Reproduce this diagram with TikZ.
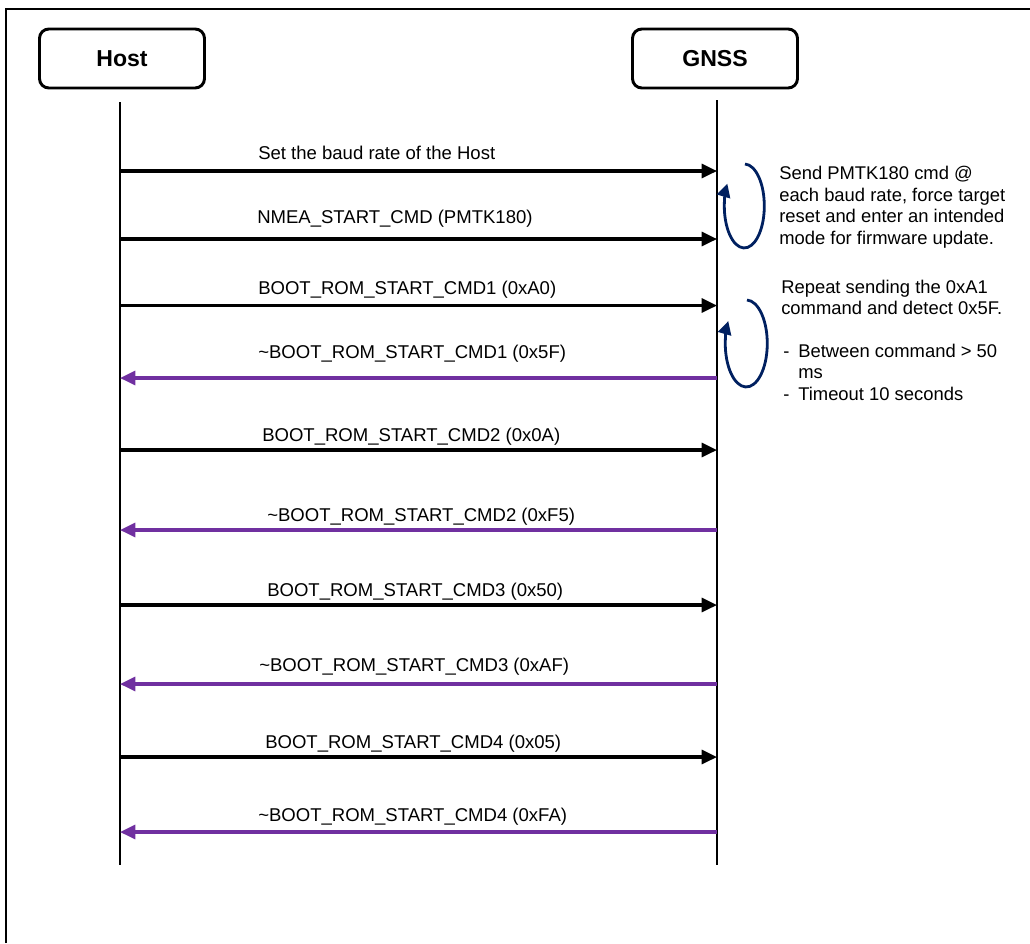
\documentclass[tikz,border=0pt]{standalone}
\usepackage{fontspec}
\setmainfont{Liberation Sans}
\usepackage{tikz}
\usetikzlibrary{arrows.meta}
\definecolor{ackpurple}{HTML}{7030A0}
\definecolor{loopnavy}{HTML}{002060}

\begin{document}
\begin{tikzpicture}[x=0.75pt, y=-0.75pt,
  hdr/.style={draw, rounded corners=7pt, line width=2.2pt, minimum width=123.75pt, minimum height=44.25pt, font=\fontsize{17.3}{20}\selectfont\bfseries},
  life/.style={line width=2.2pt},
  req/.style={-{Triangle[length=11.5pt, width=10.5pt]}, line width=2.3pt},
  ack/.style={req, draw=ackpurple},
  lbl/.style={anchor=west, inner sep=0pt, text height=9.9pt, text depth=0pt, font=\fontsize{13.9}{16}\selectfont},
  rep/.style={-{Triangle[length=10pt, width=10pt]}, draw=loopnavy, line width=2.1pt},
  note/.style={anchor=north west, align=left, inner sep=0pt, font=\fontsize{13.8}{16.1}\selectfont}]
  \useasboundingbox (0,0) rectangle (1030,943);
  \draw[line width=1.6pt] (6,943) -- (6,9) -- (1030,9);
  \node[hdr] (host) at (122,58.5) {Host};
  \node[hdr] (gnss) at (715,58.5) {GNSS};
  \coordinate (hTop) at (120,102); \coordinate (hEnd) at (120,865);
  \coordinate (gTop) at (717,100); \coordinate (gEnd) at (717,865);
  \draw[life] (hTop) -- (hEnd);
  \draw[life] (gTop) -- (gEnd);
  \coordinate (h1) at (120,171); \coordinate (g1) at (717,171);
  \coordinate (h2) at (120,239); \coordinate (g2) at (717,239);
  \coordinate (h3) at (120,305.5); \coordinate (g3) at (717,305.5);
  \coordinate (h4) at (120,378); \coordinate (g4) at (717,378);
  \coordinate (h5) at (120,450); \coordinate (g5) at (717,450);
  \coordinate (h6) at (120,530); \coordinate (g6) at (717,530);
  \coordinate (h7) at (120,605); \coordinate (g7) at (717,605);
  \coordinate (h8) at (120,684); \coordinate (g8) at (717,684);
  \coordinate (h9) at (120,757); \coordinate (g9) at (717,757);
  \coordinate (h10) at (120,832); \coordinate (g10) at (717,832);
  \draw[req] (h1) -- (g1);
  \draw[req] (h2) -- (g2);
  \draw[req] (h3) -- (g3);
  \draw[ack] (g4) -- (h4);
  \draw[req] (h5) -- (g5);
  \draw[ack] (g6) -- (h6);
  \draw[req] (h7) -- (g7);
  \draw[ack] (g8) -- (h8);
  \draw[req] (h9) -- (g9);
  \draw[ack] (g10) -- (h10);
  \node[lbl] (m1) at (258,152.5) {Set the baud rate of the Host};
  \node[lbl] (m2) at (257,217) {NMEA\_START\_CMD (PMTK180)};
  \node[lbl] (m3) at (258,288) {BOOT\_ROM\_START\_CMD1 (0xA0)};
  \node[lbl] (m4) at (258,352) {\textasciitilde BOOT\_ROM\_START\_CMD1 (0x5F)};
  \node[lbl] (m5) at (262,435) {BOOT\_ROM\_START\_CMD2 (0x0A)};
  \node[lbl] (m6) at (267,515) {\textasciitilde BOOT\_ROM\_START\_CMD2 (0xF5)};
  \node[lbl] (m7) at (267,590) {BOOT\_ROM\_START\_CMD3 (0x50)};
  \node[lbl] (m8) at (259,665) {\textasciitilde BOOT\_ROM\_START\_CMD3 (0xAF)};
  \node[lbl] (m9) at (265,742) {BOOT\_ROM\_START\_CMD4 (0x05)};
  \node[lbl] (m10) at (258,815) {\textasciitilde BOOT\_ROM\_START\_CMD4 (0xFA)};
  \draw[rep] (745,164) arc[start angle=-88, end angle=212, x radius=20, y radius=42];
  \draw[rep] (747,300) arc[start angle=-88, end angle=211, x radius=21, y radius=43.5];
  \node[note] (n1) at (779,166) {Send PMTK180 cmd @\\each baud rate, force target\\reset and enter an intended\\mode for firmware update.};
  \node[note] (n2) at (781,279.5) {Repeat sending the 0xA1\\command and detect 0x5F.\\[16.1pt]\hspace*{1.5pt}\makebox[11.25pt][l]{-}Between command > 50\\\hspace*{12.75pt}ms\\\hspace*{1.5pt}\makebox[11.25pt][l]{-}Timeout 10 seconds};
\end{tikzpicture}
\end{document}
